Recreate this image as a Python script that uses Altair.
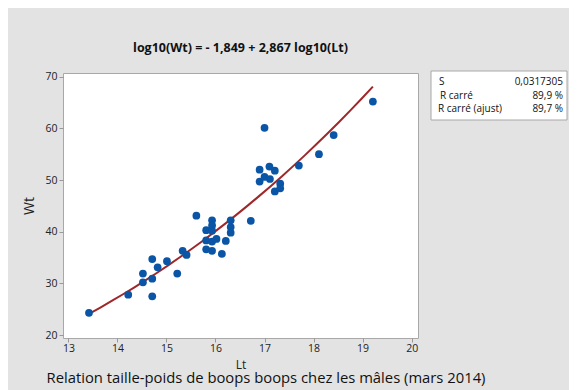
import altair as alt
import pandas as pd

# Data
lt = [13.42, 14.22, 14.71, 14.52, 14.52, 14.71, 14.71, 14.82, 15.01, 15.22,
      15.33, 15.41, 15.61, 15.81, 15.81, 15.81, 15.93, 15.93, 15.93, 15.93,
      15.93, 16.02, 16.13, 16.21, 16.31, 16.31, 16.31, 16.72, 16.90, 16.90,
      17.00, 17.00, 17.10, 17.11, 17.21, 17.21, 17.32, 17.32, 17.70, 18.11,
      18.41, 19.21]
wt = [24.3, 27.8, 27.5, 30.2, 31.9, 30.9, 34.7, 33.1, 34.3, 31.9,
      36.3, 35.5, 43.1, 40.3, 38.3, 36.6, 42.2, 41.2, 40.2, 38.1,
      36.3, 38.6, 35.7, 38.2, 42.2, 40.9, 39.8, 42.1, 52.0, 49.7,
      60.1, 50.6, 52.6, 50.2, 51.8, 47.8, 49.3, 48.4, 52.8, 55.0,
      58.7, 65.2]

title_text = "log10(Wt) = - 1,849 + 2,867 log10(Lt)"
caption_text = "Relation taille-poids de boops boops chez les mâles (mars 2014)"
stat_labels = ["S", " R carré", "R carré (ajust)"]
stat_values = ["0,0317305", "89,9 %", "89,7 %"]

df = pd.DataFrame({"Lt": lt, "Wt": wt})

FONT = "Open Sans"
W, H = 355, 265

xs = alt.Scale(domain=[12.89, 20.13], nice=False, zero=False)
ys = alt.Scale(domain=[19.42, 70.72], nice=False, zero=False)

xax = alt.Axis(values=list(range(13, 21)), title="Lt", domain=False, grid=False,
               tickSize=4, tickColor="#999999", labelFontSize=10.5, labelColor="#222222",
               labelPadding=1, titleFontSize=12, titleFontWeight="normal",
               titleColor="#222222", titlePadding=6, labelFont=FONT, titleFont=FONT)
yax = alt.Axis(values=list(range(20, 71, 10)), title="Wt", domain=False, grid=False,
               tickSize=4, tickColor="#999999", labelFontSize=10.5, labelColor="#222222",
               labelPadding=2, titleFontSize=14, titleFontWeight="normal",
               titleColor="#222222", titlePadding=8, labelFont=FONT, titleFont=FONT)

base = alt.Chart(df)

line = base.transform_regression(
    "Lt", "Wt", method="pow", extent=[min(lt), max(lt)]
).mark_line(color="#9E272A", strokeWidth=2).encode(
    x=alt.X("Lt:Q", scale=xs, axis=xax),
    y=alt.Y("Wt:Q", scale=ys, axis=yax),
)

points = base.mark_circle(size=60, color="#0A55A5", opacity=1).encode(
    x=alt.X("Lt:Q", scale=xs, axis=xax),
    y=alt.Y("Wt:Q", scale=ys, axis=yax),
)

one = pd.DataFrame({"a": [0]})

box = alt.Chart(one).mark_rect(fill="white", stroke="#a8a8a8", strokeWidth=1).encode(
    x=alt.value(368), x2=alt.value(504), y=alt.value(-2), y2=alt.value(47)
)

row_y = [9, 23, 36]
label_x = [376, 377, 375]
stat_layers = []
for lab, val, yy, lx in zip(stat_labels, stat_values, row_y, label_x):
    stat_layers.append(
        alt.Chart(pd.DataFrame({"t": [lab]})).mark_text(
            align="left", baseline="middle", fontSize=10, font=FONT, color="#111111"
        ).encode(text="t:N", x=alt.value(lx), y=alt.value(yy))
    )
    stat_layers.append(
        alt.Chart(pd.DataFrame({"t": [val]})).mark_text(
            align="right", baseline="middle", fontSize=10, font=FONT, color="#111111"
        ).encode(text="t:N", x=alt.value(500), y=alt.value(yy))
    )

caption = alt.Chart(pd.DataFrame({"t": [caption_text]})).mark_text(
    align="center", baseline="middle", fontSize=14.8, font=FONT, color="#111111"
).encode(text="t:N", x=alt.value(203), y=alt.value(306))

chart = alt.layer(line, points, box, *stat_layers, caption).properties(
    width=W, height=H,
    title=alt.TitleParams(title_text, anchor="middle", frame="group", fontSize=12.5,
                          fontWeight="bold", font=FONT, color="#111111", offset=16),
    autosize=alt.AutoSizeParams(type="none"),
    padding={"left": 55, "top": 65, "right": 151, "bottom": 52},
    background="#e3e3e3",
).configure_view(stroke="#a8a8a8", fill="white", strokeWidth=1)

chart.save("out.html", embed_options={"renderer": "svg", "actions": False})
